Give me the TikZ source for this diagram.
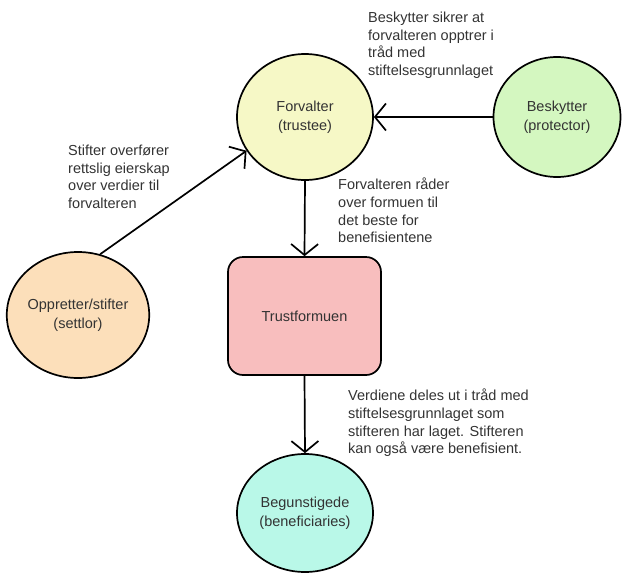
\documentclass[tikz,border=0pt]{standalone}
\usepackage{fontspec}
\setmainfont{Liberation Sans}
\usetikzlibrary{arrows.meta,shapes.geometric}
\definecolor{txt}{HTML}{333333}
\definecolor{cforv}{HTML}{F6F8C6}
\definecolor{cbesk}{HTML}{D4F7C0}
\definecolor{coppr}{HTML}{FCDFBA}
\definecolor{ctrust}{HTML}{F8BEBE}
\definecolor{cbegu}{HTML}{B9F8E8}
\tikzset{
  party/.style={ellipse, draw=black, line width=1.7pt, inner sep=0pt, align=center, text=txt,
    font={\fontsize{14.5}{19}\selectfont}},
  assetbox/.style={rectangle, rounded corners=15pt, draw=black, line width=1.7pt, inner sep=0pt, align=center, text=txt,
    font={\fontsize{14.5}{19}\selectfont}},
  flow/.style={line width=1.7pt, -{Straight Barb[length=11pt,width=27pt,line width=1.7pt]}},
  note/.style={anchor=north west, inner sep=0pt, align=left, text=txt,
    font={\fontsize{14.5}{17.6}\selectfont}}
}
\begin{document}
\begin{tikzpicture}[x=1pt,y=-1pt]
\useasboundingbox (0,0) rectangle (622,579);
\node[party, fill=cforv, minimum width=136pt, minimum height=126pt] (forv) at (305,117) {Forvalter\\(trustee)};
\node[party, fill=cbesk, minimum width=127pt, minimum height=120pt] (besk) at (557,117) {Beskytter\\(protector)};
\node[party, fill=coppr, minimum width=137pt, minimum height=126pt] (oppr) at (78,315) {Oppretter/stifter\\(settlor)};
\node[assetbox, fill=ctrust, minimum width=153pt, minimum height=118pt] (trust) at (304.5,316) {Trustformuen};
\node[party, fill=cbegu, minimum width=136pt, minimum height=118pt] (begu) at (305,513) {Begunstigede\\(beneficiaries)};

\draw[flow] (besk.west) -- (forv.east);
\draw[flow] (oppr.70) -- (forv.210);
\draw[flow] (forv.south) -- (trust.north);
\draw[flow] (trust.south) -- (begu.north);

\node[note] (nbesk) at (368,12) {Beskytter sikrer at\\forvalteren opptrer i\\tråd med\\stiftelsesgrunnlaget};
\node[note] (noppr) at (68,145) {Stifter overfører\\rettslig eierskap\\over verdier til\\forvalteren};
\node[note] (nforv) at (338,178) {Forvalteren råder\\over formuen til\\det beste for\\benefisientene};
\node[note] (ntrust) at (348,389) {Verdiene deles ut i tråd med\\stiftelsesgrunnlaget som\\stifteren har laget. Stifteren\\kan også være benefisient.};
\end{tikzpicture}
\end{document}
